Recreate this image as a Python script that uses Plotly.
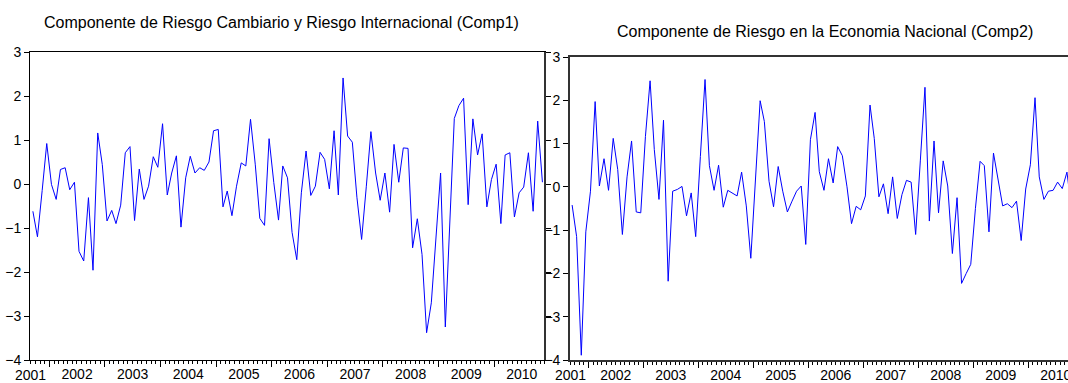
import pandas as pd
import plotly.graph_objects as go

# Monthly observations, Sep 2001 - Nov 2010
start_month = "2001-09-01"
n_obs = 111
months = pd.date_range(start_month, periods=n_obs, freq="MS") + pd.Timedelta(days=14)

comp1 = [
    -0.62, -1.20, -0.15, 0.92, -0.01, -0.35, 0.33, 0.37, -0.13, 0.04,
    -1.53, -1.75, -0.31, -1.96, 1.16, 0.44, -0.84, -0.60, -0.90, -0.48,
    0.71, 0.85, -0.83, 0.34, -0.35, -0.05, 0.62, 0.38, 1.37, -0.25,
    0.25, 0.64, -0.98, 0.14, 0.63, 0.25, 0.37, 0.31, 0.50, 1.21,
    1.24, -0.52, -0.16, -0.72, -0.05, 0.48, 0.41, 1.47, 0.45, -0.78,
    -0.94, 1.03, 0.03, -0.82, 0.41, 0.14, -1.10, -1.72, -0.20, 0.75,
    -0.26, -0.05, 0.72, 0.56, -0.11, 1.21, -0.25, 2.41, 1.09, 0.95,
    -0.30, -1.26, -0.05, 1.19, 0.25, -0.37, 0.25, -0.64, 0.90, 0.04,
    0.82, 0.81, -1.45, -0.79, -1.60, -3.38, -2.70, -1.20, 0.25, -3.25,
    -0.85, 1.49, 1.78, 1.95, -0.47, 1.48, 0.66, 1.14, -0.52, 0.10,
    0.45, -0.90, 0.66, 0.71, -0.75, -0.20, -0.07, 0.71, -0.62, 1.43,
    0.04,
]

comp2 = [
    -0.42, -1.15, -3.89, -1.04, -0.10, 1.97, 0.02, 0.65, -0.08, 1.12,
    0.40, -1.10, 0.23, 1.06, -0.58, -0.60, 1.16, 2.45, 0.86, -0.29,
    1.54, -2.18, -0.10, -0.06, 0.01, -0.67, -0.14, -1.15, 0.70, 2.48,
    0.49, -0.08, 0.50, -0.47, -0.08, -0.14, -0.21, 0.34, -0.44, -1.65,
    0.30, 1.99, 1.51, 0.13, -0.46, 0.47, -0.10, -0.58, -0.33, -0.10,
    0.02, -1.33, 1.09, 1.72, 0.35, -0.08, 0.65, 0.09, 0.93, 0.72,
    0.00, -0.85, -0.45, -0.53, -0.21, 1.89, 1.12, -0.23, 0.07, -0.62,
    0.23, -0.73, -0.18, 0.15, 0.11, -1.10, 0.60, 2.30, -0.79, 1.06,
    -0.60, 0.60, 0.02, -1.54, -0.25, -2.23, -2.00, -1.79, -0.50, 0.59,
    0.49, -1.04, 0.78, 0.17, -0.44, -0.39, -0.48, -0.33, -1.24, -0.05,
    0.51, 2.06, 0.23, -0.29, -0.10, -0.08, 0.11, -0.04, 0.34, -0.50,
    0.20,
]

titles = [
    "Componente de Riesgo Cambiario y Riesgo Internacional (Comp1)",
    "Componente de Riesgo en la Economia Nacional (Comp2)",
]
first_year_label = "2001"

W, H = 1068, 383
FONT = "Arial, 'Liberation Sans', sans-serif"
LINE_BLUE = "#0000ff"

fig = go.Figure()
fig.add_trace(go.Scatter(x=months, y=comp1, mode="lines",
                         line=dict(color=LINE_BLUE, width=1),
                         xaxis="x", yaxis="y", showlegend=False))
fig.add_trace(go.Scatter(x=months, y=comp2, mode="lines",
                         line=dict(color=LINE_BLUE, width=1),
                         xaxis="x2", yaxis="y2", showlegend=False))


def xaxis_style(domain, rng, anchor, lw, lc):
    return dict(
        domain=domain, range=rng, anchor=anchor, type="date",
        automargin=False,
        tick0="2000-01-01", dtick="M12", ticklabelmode="period",
        ticklabeloverflow="allow", ticklabelstandoff=-5,
        tickformat="%Y", ticks="outside", ticklen=6, tickwidth=1,
        tickcolor="#000", showgrid=False, zeroline=False,
        showline=True, linecolor=lc, linewidth=lw, mirror=True,
        tickfont=dict(family=FONT, size=14, color="#000"),
        minor=dict(dtick="M1", ticks="outside", ticklen=3,
                   tickcolor="#000", tickwidth=1, showgrid=False),
    )


def yaxis_style(domain, anchor, lw, lc, mirror):
    return dict(
        domain=domain, anchor=anchor, range=[-4, 3], dtick=1, tick0=0,
        automargin=False,
        ticks="outside", ticklen=5, tickwidth=1, tickcolor="#000",
        showgrid=False, zeroline=False, showline=True, linecolor=lc,
        linewidth=lw, mirror=mirror,
        tickfont=dict(family=FONT, size=14, color="#000"),
    )


fig.update_layout(
    template="none",
    width=W, height=H,
    margin=dict(l=0, r=0, t=0, b=0, pad=0, autoexpand=False),
    paper_bgcolor="white", plot_bgcolor="white",
    xaxis=xaxis_style([30 / W, 545 / W], ["2001-08-27", "2010-12-02"], "y", 1, "#000"),
    yaxis=yaxis_style([1 - 360 / H, 1 - 52 / H], "x", 1, "#000", "ticks"),
    xaxis2=xaxis_style([570 / W, 1.0], ["2001-09-01", "2010-09-22"], "y2", 1.6, "#333"),
    yaxis2=yaxis_style([1 - 360 / H, 1 - 57 / H], "x2", 1.6, "#333", False),
)

# Heavier right edge of the first panel
fig.add_shape(type="line", xref="x domain", yref="y domain",
              x0=1, x1=1, y0=0, y1=1, layer="above",
              line=dict(color="#333", width=2))

# Panel titles
fig.add_annotation(text=titles[0], xref="paper", yref="paper",
                   x=281 / W, y=1 - 23 / H, showarrow=False,
                   xanchor="center", yanchor="middle",
                   font=dict(family=FONT, size=16, color="#000"))
fig.add_annotation(text=titles[1], xref="paper", yref="paper",
                   x=825 / W, y=1 - 31.5 / H, showarrow=False,
                   xanchor="center", yanchor="middle",
                   font=dict(family=FONT, size=16, color="#000"))

# First (partial) year label at the left edge of each time axis
for xr in ["x domain", "x2 domain"]:
    fig.add_annotation(text=first_year_label, xref=xr, yref="paper",
                       x=0, y=1 - 375 / H, showarrow=False,
                       xanchor="center", yanchor="middle",
                       font=dict(family=FONT, size=14, color="#000"))

fig.write_html("out.html")
